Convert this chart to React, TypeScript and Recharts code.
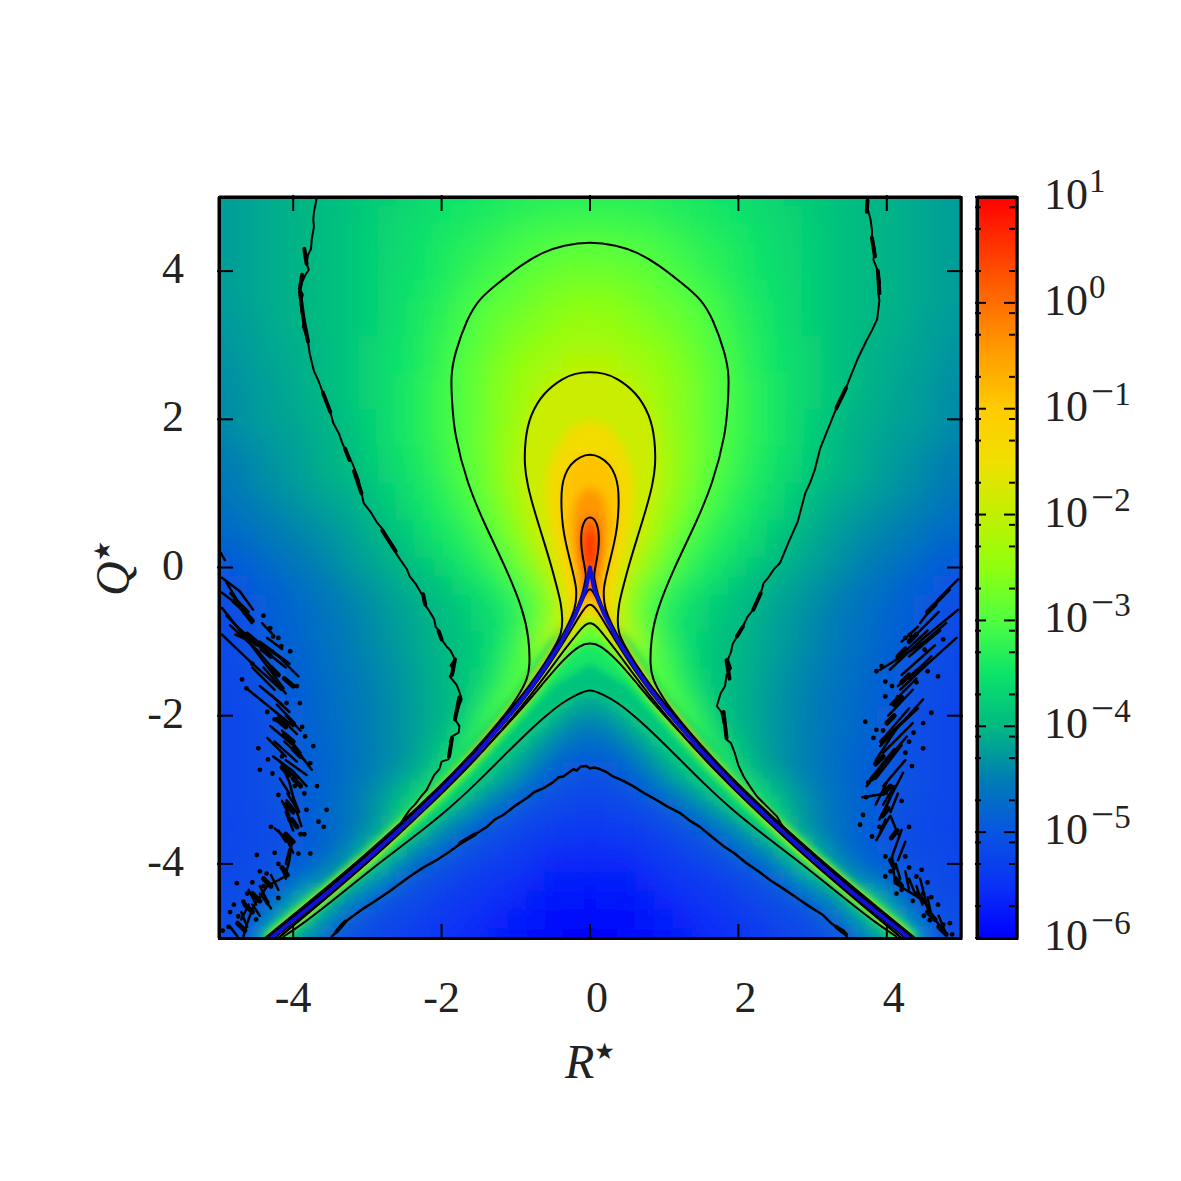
import { ComposedChart, Scatter, XAxis, YAxis } from 'recharts';

type Pt = [number, number];

// log10 of the density. One row per Q, one column per R >= 0 (map is mirrored)
const heatQ = [5, 4.75, 4.5, 4.25, 4, 3.75, 3.5, 3.25, 3, 2.75, 2.5, 2.25, 2, 1.75, 1.5, 1.25, 1, 0.75, 0.5, 0.25, 0, -0.25, -0.5, -0.75, -1, -1.25, -1.5, -1.75, -2, -2.25, -2.5, -2.75, -3, -3.25, -3.5, -3.75, -4, -4.25, -4.5, -4.75, -5];
const heatR = [0, 0.25, 0.5, 0.75, 1, 1.25, 1.5, 1.75, 2, 2.25, 2.5, 2.75, 3, 3.25, 3.5, 3.75, 4, 4.25, 4.5, 4.75, 5];
const heatLog = [
  [-3.3, -3.3, -3.3, -3.3, -3.35, -3.4, -3.45, -3.5, -3.55, -3.6, -3.7, -3.75, -3.8, -3.9, -3.95, -4, -4.05, -4.1, -4.15, -4.2, -4.25],
  [-3.2, -3.2, -3.2, -3.25, -3.3, -3.35, -3.4, -3.45, -3.5, -3.6, -3.65, -3.7, -3.8, -3.85, -3.95, -4, -4.05, -4.1, -4.15, -4.2, -4.25],
  [-3.05, -3.05, -3.1, -3.1, -3.15, -3.25, -3.3, -3.4, -3.45, -3.55, -3.6, -3.7, -3.75, -3.85, -3.95, -4, -4.05, -4.1, -4.15, -4.2, -4.25],
  [-2.9, -2.9, -2.95, -3, -3.1, -3.15, -3.25, -3.3, -3.4, -3.5, -3.6, -3.7, -3.75, -3.85, -3.95, -4, -4.05, -4.1, -4.15, -4.2, -4.25],
  [-2.8, -2.8, -2.85, -2.9, -3, -3.1, -3.2, -3.3, -3.4, -3.5, -3.6, -3.65, -3.75, -3.85, -3.95, -4, -4.05, -4.1, -4.15, -4.2, -4.25],
  [-2.65, -2.65, -2.7, -2.8, -2.9, -3, -3.1, -3.2, -3.35, -3.45, -3.55, -3.65, -3.75, -3.85, -3.95, -4, -4.05, -4.1, -4.15, -4.2, -4.25],
  [-2.5, -2.55, -2.6, -2.7, -2.8, -2.9, -3, -3.15, -3.3, -3.4, -3.55, -3.65, -3.75, -3.85, -3.95, -4, -4.05, -4.1, -4.15, -4.2, -4.25],
  [-2.4, -2.4, -2.5, -2.6, -2.7, -2.8, -2.95, -3.1, -3.25, -3.4, -3.5, -3.65, -3.75, -3.85, -3.95, -4, -4.05, -4.1, -4.2, -4.25, -4.3],
  [-2.3, -2.3, -2.4, -2.5, -2.6, -2.75, -2.9, -3.05, -3.2, -3.35, -3.5, -3.6, -3.7, -3.85, -3.95, -4.05, -4.1, -4.15, -4.2, -4.25, -4.3],
  [-2.1, -2.15, -2.25, -2.35, -2.5, -2.65, -2.85, -3, -3.2, -3.35, -3.5, -3.6, -3.7, -3.85, -3.95, -4.05, -4.1, -4.15, -4.2, -4.3, -4.35],
  [-1.95, -2, -2.1, -2.25, -2.45, -2.6, -2.8, -3, -3.15, -3.3, -3.45, -3.6, -3.7, -3.85, -3.95, -4.05, -4.1, -4.2, -4.25, -4.3, -4.35],
  [-1.8, -1.85, -2, -2.2, -2.4, -2.6, -2.8, -3, -3.15, -3.3, -3.45, -3.6, -3.7, -3.85, -3.95, -4.05, -4.15, -4.2, -4.25, -4.35, -4.4],
  [-1.6, -1.7, -1.9, -2.1, -2.35, -2.6, -2.8, -3, -3.15, -3.3, -3.45, -3.6, -3.75, -3.9, -4.05, -4.1, -4.15, -4.2, -4.25, -4.3, -4.4],
  [-1.35, -1.45, -1.7, -2, -2.3, -2.55, -2.8, -3, -3.15, -3.3, -3.45, -3.6, -3.75, -3.95, -4.05, -4.1, -4.2, -4.25, -4.3, -4.4, -4.45],
  [-1, -1.2, -1.55, -1.9, -2.25, -2.55, -2.8, -3, -3.2, -3.35, -3.5, -3.65, -3.8, -3.95, -4.05, -4.15, -4.2, -4.3, -4.35, -4.45, -4.5],
  [-0.7, -0.95, -1.45, -1.85, -2.25, -2.55, -2.85, -3.05, -3.2, -3.4, -3.55, -3.7, -3.85, -4, -4.05, -4.15, -4.25, -4.3, -4.4, -4.5, -4.55],
  [-0.45, -0.75, -1.35, -1.85, -2.3, -2.6, -2.9, -3.1, -3.3, -3.45, -3.6, -3.75, -3.95, -4.08, -4.15, -4.2, -4.3, -4.35, -4.45, -4.5, -4.6],
  [-0.2, -0.7, -1.4, -1.95, -2.4, -2.7, -3, -3.2, -3.35, -3.5, -3.7, -3.85, -4.03, -4.12, -4.2, -4.3, -4.35, -4.45, -4.5, -4.6, -4.7],
  [0, -0.65, -1.55, -2.05, -2.5, -2.85, -3.1, -3.3, -3.45, -3.6, -3.8, -3.95, -4.1, -4.2, -4.3, -4.35, -4.45, -4.5, -4.6, -4.7, -4.75],
  [0.2, -0.8, -1.75, -2.25, -2.7, -3, -3.25, -3.4, -3.55, -3.7, -3.9, -4.05, -4.15, -4.25, -4.35, -4.45, -4.5, -4.6, -4.7, -4.8, -4.85],
  [0.3, -1, -2, -2.45, -2.85, -3.15, -3.35, -3.5, -3.7, -3.85, -4, -4.1, -4.2, -4.3, -4.4, -4.5, -4.6, -4.7, -4.8, -4.9, -5],
  [0, -1.2, -2.3, -2.75, -3.1, -3.35, -3.5, -3.65, -3.85, -4, -4.1, -4.2, -4.3, -4.4, -4.5, -4.6, -4.7, -4.8, -4.9, -5, -5.05],
  [-1, -1.5, -2.5, -2.95, -3.25, -3.5, -3.65, -3.8, -3.95, -4.05, -4.15, -4.25, -4.35, -4.45, -4.55, -4.65, -4.75, -4.85, -4.95, -5.05, -5.1],
  [-2.1, -1.6, -2.4, -2.95, -3.35, -3.55, -3.7, -3.85, -3.98, -4.1, -4.2, -4.3, -4.4, -4.5, -4.6, -4.7, -4.8, -4.85, -5, -5.1, -5.15],
  [-2.9, -2.6, -1.9, -2.7, -3.2, -3.5, -3.75, -3.9, -4, -4.1, -4.2, -4.3, -4.4, -4.5, -4.6, -4.7, -4.8, -4.9, -5, -5.1, -5.2],
  [-3.4, -3.3, -3, -2.8, -3.1, -3.45, -3.75, -3.92, -4.02, -4.12, -4.25, -4.35, -4.45, -4.55, -4.65, -4.75, -4.85, -4.95, -5.02, -5.12, -5.2],
  [-3.75, -3.6, -3.2, -2.9, -3, -3.4, -3.7, -3.92, -4.02, -4.15, -4.27, -4.37, -4.47, -4.57, -4.67, -4.77, -4.87, -4.97, -5.05, -5.15, -5.22],
  [-4.1, -4, -3.6, -3.2, -2.9, -3.2, -3.6, -3.9, -4.05, -4.15, -4.3, -4.4, -4.5, -4.6, -4.7, -4.8, -4.9, -5, -5.07, -5.17, -5.23],
  [-4.4, -4.3, -4, -3.6, -3.2, -3, -3.4, -3.85, -4.05, -4.15, -4.3, -4.4, -4.5, -4.6, -4.7, -4.8, -4.92, -5.02, -5.1, -5.2, -5.25],
  [-4.65, -4.55, -4.35, -4, -3.65, -3.3, -3.2, -3.7, -4, -4.15, -4.3, -4.42, -4.5, -4.62, -4.72, -4.82, -4.93, -5.03, -5.1, -5.2, -5.25],
  [-4.85, -4.8, -4.6, -4.35, -4, -3.7, -3.3, -3.4, -3.9, -4.1, -4.28, -4.42, -4.52, -4.65, -4.75, -4.85, -4.95, -5.03, -5.1, -5.2, -5.25],
  [-5.02, -5, -4.85, -4.6, -4.25, -3.95, -3.6, -3.2, -3.7, -4.05, -4.25, -4.4, -4.55, -4.65, -4.8, -4.87, -4.97, -5.05, -5.1, -5.2, -5.25],
  [-5.15, -5.1, -5.05, -4.9, -4.65, -4.35, -4.05, -3.7, -3.2, -3.7, -4, -4.25, -4.45, -4.6, -4.75, -4.85, -4.97, -5.05, -5.1, -5.2, -5.25],
  [-5.3, -5.25, -5.2, -5.1, -5, -4.75, -4.5, -4.15, -3.85, -3.3, -3.8, -4.15, -4.4, -4.6, -4.75, -4.87, -4.97, -5.05, -5.15, -5.2, -5.25],
  [-5.4, -5.35, -5.35, -5.25, -5.15, -5.05, -4.9, -4.65, -4.35, -3.95, -3.3, -4.2, -4.4, -4.6, -4.75, -4.9, -5, -5.1, -5.15, -5.22, -5.27],
  [-5.55, -5.5, -5.45, -5.4, -5.3, -5.2, -5.1, -4.95, -4.7, -4.45, -4.15, -3.4, -4.2, -4.55, -4.75, -4.9, -5, -5.1, -5.15, -5.2, -5.25],
  [-5.65, -5.6, -5.6, -5.5, -5.4, -5.35, -5.25, -5.15, -5.05, -4.85, -4.55, -4.15, -3.4, -4.3, -4.6, -4.8, -4.9, -5, -5.1, -5.15, -5.2],
  [-5.75, -5.7, -5.7, -5.6, -5.5, -5.45, -5.4, -5.3, -5.2, -5.1, -5, -4.7, -4.3, -3.8, -4.2, -4.6, -4.85, -4.97, -5.07, -5.15, -5.2],
  [-5.85, -5.8, -5.8, -5.7, -5.6, -5.55, -5.45, -5.4, -5.3, -5.2, -5.1, -5.05, -4.9, -4.45, -4.05, -3.4, -4.4, -4.85, -5, -5.1, -5.15],
  [-5.9, -5.9, -5.85, -5.8, -5.7, -5.65, -5.55, -5.5, -5.4, -5.3, -5.25, -5.15, -5.05, -4.95, -4.55, -4.05, -3.4, -4.5, -4.9, -5.05, -5.15],
  [-5.95, -5.95, -5.9, -5.85, -5.8, -5.7, -5.6, -5.55, -5.5, -5.4, -5.3, -5.25, -5.15, -5.05, -5, -4.6, -4.2, -3.4, -4.8, -5.05, -5.15],
];

// colour map, level -> colour
const cmapLevels = [-6, -5.5, -5, -4.5, -4, -3.5, -3, -2.5, -2, -1.5, -1, -0.5, 0, 0.5, 1];
const cmapColors = ['#0000ff', '#0a32f5', '#0855e1', '#007db4', '#00b982', '#0ce469', '#50ff40', '#90ff10', '#c0f000', '#f0e000', '#ffcb00', '#ffa000', '#ff6e00', '#ff3800', '#ff0000'];

// contours (R >= 0 half, apex first); top* runs over the bell, low* under the cusp
const blueLine: Pt[] = [[0, 0], [0.05, -0.26], [0.1, -0.41], [0.2, -0.65], [0.4, -1.03], [0.6, -1.34], [0.8, -1.63], [1, -1.89], [1.5, -2.48], [2, -3], [2.5, -3.48], [3, -3.93], [3.5, -4.36], [4, -4.76], [4.3, -5]];

const top0: Pt[] = [[0, 0.68], [0.05, 0.66], [0.09, 0.6], [0.115, 0.5], [0.12, 0.38], [0.115, 0.25], [0.09, 0.1], [0.07, 0], [0.05, -0.12], [0.07, -0.2], [0.1, -0.36], [0.2, -0.62], [0.4, -1], [0.8, -1.6], [1.2, -2.1], [1.6, -2.55]];
const low0: Pt[] = [[0, -0.27], [0.05, -0.34], [0.1, -0.44], [0.2, -0.66], [0.4, -1.04], [0.8, -1.64], [1.2, -2.14], [1.6, -2.59]];
const top1: Pt[] = [[0, 1.53], [0.13, 1.5], [0.27, 1.39], [0.34, 1.25], [0.38, 1.1], [0.39, 0.87], [0.37, 0.55], [0.32, 0.3], [0.27, 0.1], [0.21, -0.15], [0.18, -0.3], [0.19, -0.48], [0.22, -0.62], [0.4, -0.98], [0.6, -1.3], [0.8, -1.59], [1, -1.85], [1.5, -2.44], [2, -2.97], [3, -3.9], [4.32, -5]];
const low1: Pt[] = [[0, -0.48], [0.08, -0.55], [0.2, -0.75], [0.4, -1.08], [0.6, -1.39], [0.8, -1.66], [1, -1.92], [1.5, -2.5], [2, -3.02], [3, -3.96], [4.25, -5]];
const top2: Pt[] = [[0, 2.64], [0.2, 2.62], [0.36, 2.56], [0.63, 2.36], [0.81, 2.05], [0.876, 1.73], [0.885, 1.37], [0.84, 1.1], [0.76, 0.8], [0.63, 0.38], [0.52, 0.02], [0.45, -0.25], [0.39, -0.48], [0.37, -0.7], [0.38, -0.88], [0.47, -1.06], [0.6, -1.28], [0.8, -1.57], [1, -1.83], [1.5, -2.43], [2, -2.96], [3, -3.88], [4.35, -5]];
const low2: Pt[] = [[0, -0.73], [0.1, -0.8], [0.2, -0.93], [0.4, -1.18], [0.6, -1.46], [0.8, -1.72], [1, -1.97], [1.5, -2.55], [2, -3.06], [3, -4], [4.2, -5]];
const top3: Pt[] = [[0, 4.4], [0.36, 4.35], [0.63, 4.26], [0.92, 4.09], [1.26, 3.82], [1.5, 3.62], [1.66, 3.35], [1.82, 2.9], [1.88, 2.59], [1.855, 2.18], [1.83, 1.82], [1.66, 1.14], [1.41, 0.56], [1.145, 0.02], [0.9, -0.57], [0.82, -0.97], [0.81, -1.33], [0.84, -1.5], [0.97, -1.74], [1.1, -1.93], [1.5, -2.41], [2, -2.94], [3, -3.87], [4.38, -5]];
const low3: Pt[] = [[0, -1.02], [0.13, -1.04], [0.36, -1.24], [0.63, -1.56], [0.85, -1.83], [1.3, -2.32], [1.75, -2.8], [2.2, -3.23], [2.7, -3.72], [3.19, -4.14], [3.64, -4.52], [4.2, -5]];
const low4: Pt[] = [[0, -1.63], [0.18, -1.72], [0.36, -1.81], [0.63, -2.03], [0.9, -2.28], [1.21, -2.59], [1.53, -2.91], [1.89, -3.25], [2.43, -3.68], [2.96, -4.08], [3.46, -4.49], [3.86, -4.8], [4.13, -4.98]];

const top4Left: Pt[] = [[-3.68, 5], [-3.7, 4.9], [-3.72, 4.8], [-3.73, 4.7], [-3.72, 4.6], [-3.75, 4.43], [-3.76, 4.3], [-3.8, 4.22], [-3.82, 4.1], [-3.79, 4.02], [-3.84, 3.94], [-3.88, 3.85], [-3.91, 3.76], [-3.87, 3.68], [-3.9, 3.58], [-3.89, 3.44], [-3.85, 3.35], [-3.87, 3.25], [-3.84, 3.17], [-3.8, 3.05], [-3.78, 2.9], [-3.75, 2.77], [-3.72, 2.65], [-3.66, 2.52], [-3.6, 2.36], [-3.56, 2.25], [-3.5, 2.1], [-3.46, 1.95], [-3.38, 1.8], [-3.34, 1.68], [-3.28, 1.55], [-3.2, 1.4], [-3.12, 1.19], [-3.09, 1.05], [-3.05, 0.87], [-2.95, 0.74], [-2.88, 0.62], [-2.79, 0.51], [-2.7, 0.33], [-2.62, 0.2], [-2.56, 0.11], [-2.47, -0.02], [-2.43, -0.12], [-2.35, -0.22], [-2.29, -0.32], [-2.25, -0.39], [-2.24, -0.48], [-2.17, -0.58], [-2.1, -0.7], [-2.08, -0.8], [-2.03, -0.86], [-2, -0.97], [-1.93, -1.07], [-1.88, -1.12], [-1.82, -1.24], [-1.88, -1.32], [-1.83, -1.38], [-1.89, -1.47], [-1.8, -1.58], [-1.76, -1.68], [-1.73, -1.78], [-1.76, -1.86], [-1.82, -2.05], [-1.76, -2.14], [-1.77, -2.23], [-1.86, -2.28], [-1.89, -2.35], [-1.87, -2.46], [-1.91, -2.59], [-2, -2.62], [-2.03, -2.72], [-2.1, -2.8], [-2.2, -3], [-2.27, -3.08], [-2.36, -3.2], [-2.43, -3.27], [-2.52, -3.4], [-2.6, -3.54], [-2.78, -3.7], [-3, -3.86], [-3.5, -4.31], [-4, -4.72], [-4.32, -4.98]];
const top4Right: Pt[] = [[3.75, 5], [3.74, 4.85], [3.78, 4.7], [3.8, 4.55], [3.8, 4.43], [3.84, 4.3], [3.82, 4.15], [3.88, 4], [3.91, 3.85], [3.88, 3.76], [3.9, 3.6], [3.87, 3.35], [3.8, 3.2], [3.72, 3.05], [3.6, 2.8], [3.52, 2.6], [3.4, 2.3], [3.3, 2.1], [3.2, 1.85], [3.1, 1.6], [3.03, 1.32], [2.97, 1.15], [2.9, 1], [2.8, 0.62], [2.68, 0.35], [2.56, 0.06], [2.48, -0.02], [2.4, -0.14], [2.34, -0.21], [2.3, -0.35], [2.2, -0.57], [2.12, -0.67], [2.06, -0.8], [1.98, -0.93], [1.92, -1.04], [1.9, -1.14], [1.86, -1.24], [1.9, -1.36], [1.84, -1.45], [1.82, -1.6], [1.76, -1.7], [1.71, -1.87], [1.77, -1.95], [1.8, -2.1], [1.83, -2.2], [1.84, -2.32], [1.9, -2.37], [1.95, -2.5], [2, -2.67], [2.07, -2.82], [2.16, -2.96], [2.25, -3.09], [2.38, -3.22], [2.52, -3.36], [2.6, -3.5], [2.7, -3.59], [2.92, -3.8], [3.2, -4.05], [3.7, -4.48], [4.32, -4.98]];
const low5Left: Pt[] = [[0, -2.71], [-0.05, -2.68], [-0.13, -2.69], [-0.18, -2.74], [-0.22, -2.72], [-0.36, -2.82], [-0.42, -2.83], [-0.5, -2.9], [-0.63, -2.98], [-0.75, -3.03], [-0.85, -3.11], [-1, -3.21], [-1.17, -3.34], [-1.28, -3.4], [-1.39, -3.5], [-1.55, -3.6], [-1.71, -3.7], [-1.9, -3.84], [-2.07, -3.95], [-2.25, -4.05], [-2.43, -4.17], [-2.66, -4.34], [-2.88, -4.49], [-3.05, -4.6], [-3.23, -4.73], [-3.35, -4.82], [-3.42, -4.92], [-3.48, -4.98]];
const low5Right: Pt[] = [[0, -2.71], [0.06, -2.7], [0.13, -2.72], [0.22, -2.76], [0.31, -2.82], [0.45, -2.88], [0.58, -2.95], [0.74, -3.05], [0.9, -3.14], [1.05, -3.23], [1.21, -3.31], [1.35, -3.42], [1.48, -3.5], [1.65, -3.64], [1.8, -3.76], [1.95, -3.86], [2.11, -3.99], [2.27, -4.1], [2.43, -4.22], [2.6, -4.33], [2.79, -4.46], [2.95, -4.57], [3.14, -4.69], [3.25, -4.8], [3.32, -4.85], [3.42, -4.9], [3.46, -4.98]];

// estimated half-decade loops, only needed to shade the inner bell
const bellM15: Pt[] = [[0, 2], [0.25, 1.9], [0.45, 1.65], [0.58, 1.3], [0.6, 0.95], [0.55, 0.55], [0.45, 0.1], [0.35, -0.3], [0.3, -0.6], [0.32, -0.78], [0, -0.6]];
const bellM05: Pt[] = [[0, 1.08], [0.12, 1.02], [0.2, 0.85], [0.24, 0.6], [0.22, 0.3], [0.17, 0], [0.13, -0.2], [0.1, -0.32], [0, -0.38]];
const bellP04: Pt[] = [[0, 0.5], [0.05, 0.45], [0.07, 0.3], [0.06, 0.1], [0.03, -0.05], [0, -0.1]];

// filled ridge along the tail, lower side from the contours, upper side tight to the blue line
const ridgeM3: Pt[] = [...low3, [4.38, -5], [3, -3.87], [2, -2.94], [1.5, -2.41], [0.97, -1.74], [0.6, -1.18], [0.3, -0.75], [0, -0.5]];
const ridgeM35: Pt[] = [[0, -1.3], [0.5, -1.6], [1, -2.15], [1.5, -2.7], [2, -3.2], [3, -4.04], [4, -4.85], [4.18, -5], [4.4, -5], [3, -3.86], [2, -2.92], [1.5, -2.38], [1, -1.78], [0.5, -1.03], [0, -0.55]];
const ridgeM4: Pt[] = [...low4, [4.42, -5], [3.5, -4.3], [2.6, -3.48], [2, -2.86], [1.5, -2.3], [1, -1.72], [0.5, -1], [0, -0.6]];

// the broken-up 1e-5 and 1e-4 contour, short pieces
const streaksLeft: Pt[][] = [
  [[-4.96, -0.14], [-4.72, -0.32], [-4.54, -0.57]], [[-4.96, -0.34], [-4.75, -0.5], [-4.56, -0.75]], [[-4.96, -0.545], [-4.6, -1], [-4.13, -1.63]], [[-4.96, -0.905], [-4.6, -1.25], [-4.16, -1.65]],
  [[-4.78, -0.905], [-4.27, -1.13]], [[-4.53, -0.97], [-4.2, -1.2], [-3.93, -1.47]], [[-4.63, -1.63], [-4.3, -1.9], [-4, -2.14]], [[-4.31, -2.14], [-4, -2.4], [-3.75, -2.73]], [[-4.27, -2.55], [-4, -2.75], [-3.82, -2.95]],
  [[-4.15, -2.68], [-4.05, -2.9], [-3.99, -3.14]], [[-4.09, -3.14], [-3.95, -3.3], [-3.89, -3.49]], [[-4.25, -3.52], [-4.02, -3.72]], [[-4.02, -3.72], [-4.05, -3.95], [-4.11, -4.17]], [[-4.11, -4.17], [-4.35, -4.3], [-4.54, -4.58]], [[-4.54, -4.58], [-4.62, -4.8], [-4.67, -4.98]],
  [[-4.9, -0.2], [-4.75, -0.45]], [[-4.5, -1.1], [-4.2, -1.45]], [[-4.4, -1.35], [-4.1, -1.7]], [[-4.35, -2.3], [-4.1, -2.55]], [[-4.15, -2.2], [-3.9, -2.5]], [[-4.1, -3.3], [-4, -3.55]], [[-4.45, -4.4], [-4.3, -4.6]], [[-4.7, -4.75], [-4.6, -4.55]], [[-4.98, 0.2], [-4.92, 0.1]],
  [[-4.85, -0.35], [-4.6, -0.6]], [[-4.8, -0.45], [-4.55, -0.72]], [[-4.9, -0.65], [-4.5, -1.05]], [[-4.85, -0.78], [-4.45, -1.15]], [[-4.7, -0.85], [-4.3, -1.2]], [[-4.6, -0.95], [-4.1, -1.35]], [[-4.45, -1], [-4.05, -1.3]], [[-4.35, -0.95], [-4.15, -1.1]], [[-4.42, -0.75], [-4.28, -0.9]],
  [[-4.55, -1.35], [-4.25, -1.65]], [[-4.45, -1.6], [-4.15, -1.85]], [[-4.3, -1.72], [-4.05, -1.95]], [[-4.22, -1.85], [-3.98, -2.1]], [[-4.2, -2], [-3.95, -2.25]], [[-4.1, -2], [-3.9, -2.2]], [[-4.25, -2.35], [-3.95, -2.62]], [[-4.12, -2.35], [-3.85, -2.6]], [[-4.2, -2.6], [-3.95, -2.85]], [[-4.1, -2.6], [-3.82, -2.8]], [[-4.18, -2.85], [-4.05, -3.05]],
  [[-4.08, -3.05], [-3.95, -3.25]], [[-4.15, -3.15], [-4.05, -3.35]], [[-4, -3.1], [-3.92, -3.3]], [[-4.2, -3.55], [-4.1, -3.7]], [[-4.12, -3.6], [-4, -3.85]], [[-4.05, -3.8], [-4.1, -4]], [[-4.15, -4.05], [-4.1, -4.2]], [[-4.3, -4.15], [-4.2, -4.35]], [[-4.45, -4.3], [-4.35, -4.5]], [[-4.6, -4.35], [-4.5, -4.55]], [[-4.55, -4.55], [-4.45, -4.7]], [[-4.7, -4.65], [-4.62, -4.85]], [[-4.85, -4.85], [-4.75, -4.98]],
];
const streaksRight: Pt[][] = [
  [[4.96, -0.16], [4.7, -0.42], [4.45, -0.75]], [[4.96, -0.57], [4.5, -0.95], [4.04, -1.38]], [[4.94, -0.95], [4.55, -1.3], [4.18, -1.65]], [[4.49, -1.02], [3.91, -1.38]], [[4.49, -1.78], [4.2, -2.1], [3.91, -2.41]],
  [[4.27, -2.28], [4, -2.6], [3.73, -2.95]], [[4.22, -2.77], [4.1, -3], [3.95, -3.31]], [[4, -3.05], [3.67, -3.1]], [[4.04, -3.36], [3.86, -3.68]], [[4.2, -3.54], [4.07, -3.9]], [[4.07, -3.9], [4.11, -4.26]], [[4.11, -4.26], [4.49, -4.49]], [[4.49, -4.49], [4.65, -4.75], [4.81, -4.96]],
  [[4.7, -0.6], [4.35, -0.95]], [[4.6, -1.2], [4.3, -1.5]], [[4.3, -1.9], [4, -2.25]], [[4.15, -2.15], [3.85, -2.6]], [[4, -2.9], [3.85, -3.2]], [[4.15, -3.6], [4.05, -3.35]], [[4.25, -4.1], [4.3, -4.35]], [[4.45, -4.2], [4.55, -4.6]],
  [[4.85, -0.3], [4.6, -0.55]], [[4.8, -0.75], [4.45, -1.05]], [[4.72, -0.85], [4.3, -1.2]], [[4.55, -0.85], [4.12, -1.25]], [[4.42, -0.8], [4.2, -1]], [[4.65, -1.05], [4.2, -1.45]], [[4.5, -1.3], [4.15, -1.6]], [[4.4, -1.5], [4.05, -1.85]], [[4.35, -1.65], [4.02, -2]], [[4.42, -1.9], [4.1, -2.2]], [[4.35, -2.1], [3.95, -2.5]], [[4.25, -2.05], [3.92, -2.35]], [[4.2, -2.4], [3.85, -2.85]], [[4.1, -2.45], [3.78, -2.85]], [[4.25, -2.6], [3.95, -2.95]],
  [[4.1, -2.95], [3.95, -3.2]], [[4.05, -3.1], [3.9, -3.4]], [[4.15, -3.05], [4.05, -3.3]], [[3.98, -3.4], [3.9, -3.6]], [[4.25, -3.7], [4.15, -3.95]], [[4.12, -4], [4.18, -4.2]], [[4.3, -4.2], [4.38, -4.4]], [[4.4, -4.3], [4.48, -4.55]], [[4.55, -4.45], [4.6, -4.7]], [[4.7, -4.7], [4.78, -4.9]],
];
// thick places where the noisy contour doubles back on itself
const clumps: Pt[][] = [
  [[-3.85, 4.3], [-3.82, 4.1]], [[-3.88, 3.95], [-3.91, 3.76]], [[-3.91, 3.72], [-3.86, 3.35], [-3.8, 3.05]], [[-3.6, 2.36], [-3.5, 2.1]], [[-3.3, 1.6], [-3.24, 1.45]], [[-3.18, 1.3], [-3.08, 1]], [[-2.8, 0.5], [-2.62, 0.22]], [[-2.25, -0.36], [-2.22, -0.5]],
  [[-2.04, -0.86], [-2, -0.97]], [[-1.82, -1.24], [-1.86, -1.45]], [[-1.76, -1.75], [-1.82, -2.05]], [[-1.86, -2.3], [-1.9, -2.55]], [[-1.75, -3.72], [-1.55, -3.6]], [[-3.42, -4.92], [-3.3, -4.78]],
  [[3.74, 4.95], [3.73, 4.8]], [[3.8, 4.45], [3.84, 4.2]], [[3.88, 4], [3.9, 3.7]], [[3.45, 2.42], [3.32, 2.15]], [[1.8, -1.95], [1.84, -2.3]], [[1.98, -0.93], [2.06, -0.8]], [[2.2, -0.57], [2.3, -0.35]], [[1.84, -1.25], [1.88, -1.5]], [[3.32, -4.85], [3.45, -4.95]],
];
const blobs: Pt[][] = [
  [[-4.8, -0.45], [-4.68, -0.56]], [[-4.66, -0.6], [-4.55, -0.72]], [[-4.62, -0.9], [-4.5, -1]], [[-4.42, -1.1], [-4.3, -1.2]], [[-4.3, -1.35], [-4.2, -1.45]], [[-4.12, -1.5], [-4, -1.6]], [[-4.22, -2.05], [-4.1, -2.15]], [[-4.12, -2.25], [-4, -2.35]], [[-4, -2.45], [-3.9, -2.55]], [[-4.15, -2.7], [-4.05, -2.8]], [[-4, -2.85], [-3.9, -2.95]], [[-4.1, -3.2], [-4, -3.3]], [[-4.02, -3.4], [-3.95, -3.5]], [[-4.1, -3.6], [-4, -3.7]], [[-4.15, -4.05], [-4.08, -4.15]], [[-4.4, -4.2], [-4.3, -4.3]], [[-4.55, -4.4], [-4.45, -4.5]], [[-4.65, -4.55], [-4.55, -4.65]], [[-4.75, -4.8], [-4.65, -4.9]],
  [[4.65, -0.5], [4.55, -0.6]], [[4.4, -0.9], [4.3, -1]], [[4.25, -1.1], [4.15, -1.2]], [[4.3, -1.45], [4.2, -1.55]], [[4.2, -1.75], [4.1, -1.85]], [[4.1, -2], [4, -2.1]], [[4.03, -2.25], [3.93, -2.35]], [[3.95, -2.55], [3.85, -2.65]], [[3.9, -2.75], [3.8, -2.85]], [[4.05, -2.95], [3.95, -3.05]], [[4.02, -3.25], [3.94, -3.35]], [[4.14, -3.55], [4.06, -3.65]], [[4.05, -3.95], [4.1, -4.05]], [[4.12, -4.2], [4.2, -4.3]], [[4.4, -4.4], [4.5, -4.5]], [[4.55, -4.65], [4.65, -4.75]], [[4.7, -4.85], [4.8, -4.95]],
];
const specks: Pt[] = [
  [-4.31, -0.82], [-4.27, -0.93], [-4.16, -1.06], [-4.04, -1.13], [-3.95, -1.6], [-3.91, -1.83], [-4.09, -1.83], [-3.84, -2.28], [-3.73, -2.41], [-4.47, -2.44], [-4.34, -2.59], [-4.45, -2.73], [-3.77, -2.64], [-3.68, -2.95], [-4.2, -3.07], [-3.82, -3.27], [-3.55, -3.27], [-3.66, -3.43], [-3.59, -3.5], [-3.93, -3.86], [-3.77, -3.86], [-4.49, -3.88], [-4.36, -4.13], [-4.76, -4.26], [-4.2, -4.46], [-4.67, -4.51], [-4.87, -4.85], [-4.74, -4.71], [-4.69, -1.51], [-4.63, -1.63],
  [-4.4, -0.65], [-4.2, -0.95], [-4.55, -1.3], [-4.25, -2.05], [-4.35, -1.95], [-4.05, -2.1], [-3.88, -2.15], [-3.98, -2.95], [-4.28, -2.78], [-4.15, -2.55], [-3.85, -3.05], [-3.9, -3.6], [-4.3, -3.5], [-4.25, -3.85], [-4.2, -4], [-4.45, -4.1], [-4.55, -4.25], [-4.62, -4.4], [-4.35, -4.52], [-4.5, -4.75], [-4.8, -4.55], [-4.95, -4.9], [-4.85, -4.65], [-4.4, -4.3], [-3.85, -3.6], [-4.05, -3.4],
  [4.31, -0.91], [4.25, -0.95], [4.51, -1.11], [4.76, -0.97], [4.69, -1.47], [3.93, -1.33], [3.86, -1.4], [3.98, -1.54], [4.07, -1.6], [3.98, -1.74], [4.11, -1.83], [3.71, -2.08], [4.49, -2.1], [4.6, -1.96], [3.86, -2.19], [3.82, -2.3], [4.36, -2.23], [4.49, -2.44], [4.34, -2.68], [3.68, -3.34], [3.64, -3.47], [3.8, -3.63], [3.98, -3.9], [3.98, -4.17], [4.47, -4.08], [4.4, -4.17], [4.49, -4.4], [4.13, -4.4], [4.69, -4.55], [4.76, -4.82], [4.58, -4.76],
  [4.15, -1.75], [3.95, -2.2], [4.4, -1.55], [4.55, -1.4], [4.25, -2.5], [4.3, -2.35], [4.2, -3.15], [3.9, -3.5], [4.3, -3.5], [4.25, -3.9], [4.3, -4.05], [4.05, -4.1], [4.2, -4.35], [4.35, -4.5], [4.55, -4.25], [4.6, -4.45], [4.5, -4.7], [4.85, -4.8], [4.88, -4.95], [3.75, -2.9], [3.72, -3.1],
];

const axisTicks = [-4, -2, 0, 2, 4];
const cbarDecades = [-6, -5, -4, -3, -2, -1, 0, 1];
const cbarMinorLogs = [0.301, 0.699, 0.903];
const cbarCorners: Pt[] = [[0, -6], [1, -6], [1, 1], [0, 1]];

const INK = '#222222';
const SERIF = '"Liberation Serif", serif';
const TICK_LEN = 16;

function hexToRgb(hex: string) {
  return [1, 3, 5].map((i) => parseInt(hex.slice(i, i + 2), 16));
}

function levelColor(level: number) {
  const v = Math.min(1, Math.max(-6, level));
  let i = 0;
  while (i < cmapLevels.length - 2 && v > cmapLevels[i + 1]) i++;
  const t = (v - cmapLevels[i]) / (cmapLevels[i + 1] - cmapLevels[i]);
  const a = hexToRgb(cmapColors[i]);
  const b = hexToRgb(cmapColors[i + 1]);
  const c = a.map((n, k) => Math.round(n + (b[k] - n) * t));
  return `rgb(${c[0]},${c[1]},${c[2]})`;
}

const heatCells = heatQ.flatMap((q, row) =>
  heatR.flatMap((r, col) => {
    const fill = levelColor(heatLog[row][col]);
    const cells = [{ x: r, y: q, fill }];
    if (r > 0) cells.push({ x: -r, y: q, fill });
    return cells;
  }),
);

const rows = (pts: Pt[]) => pts.map(([x, y]) => ({ x, y }));
const both = (half: Pt[]): Pt[] => [
  ...half.slice(1).reverse().map(([r, q]): Pt => [-r, q]),
  ...half,
];
// closed loop: bell first, then back under the cusp
const loop = (top: Pt[], low: Pt[]): Pt[] => [...both(top), ...[...both(low)].reverse()];

const noDot = () => null;

const HeatCell = (props: any) => {
  const { cx, cy, payload } = props;
  // edge cells run on past the frame so the blur has something to pull from
  const left = payload.x === -5 ? 60 : 10;
  const right = payload.x === 5 ? 60 : 10;
  const up = payload.y === 5 ? 60 : 10;
  const down = payload.y === -5 ? 60 : 10;
  return <rect x={cx - left} y={cy - up} width={left + right} height={up + down} fill={payload.fill} />;
};

const Speck = (props: any) => <circle cx={props.cx} cy={props.cy} r={2.4} fill="#000" />;

const BottomTick = (props: any) => {
  const { x, y, payload } = props;
  const v = payload.value;
  return (
    <g>
      <line x1={x} x2={x} y1={y} y2={y - TICK_LEN} stroke="#000" strokeWidth={2} />
      <text x={v >= 0 ? x + 7 : x} y={y + 72} textAnchor="middle" fontFamily={SERIF} fontSize={44} fill={INK}>{v}</text>
    </g>
  );
};
const TopTick = ({ x, y }: any) => <line x1={x} x2={x} y1={y} y2={y + TICK_LEN} stroke="#000" strokeWidth={2} />;
const LeftTick = (props: any) => {
  const { x, y, payload } = props;
  return (
    <g>
      <line x1={x} x2={x + TICK_LEN} y1={y} y2={y} stroke="#000" strokeWidth={2} />
      <text x={x - 33} y={y + 12} textAnchor="end" fontFamily={SERIF} fontSize={44} fill={INK}>{payload.value}</text>
    </g>
  );
};
const RightTick = ({ x, y }: any) => <line x1={x} x2={x - TICK_LEN} y1={y} y2={y} stroke="#000" strokeWidth={2} />;

const CbarTick = (props: any) => {
  const { x, y, payload } = props;
  const v = payload.value;
  const major = cbarDecades.includes(v);
  const len = major ? 11 : 6;
  return (
    <g>
      <line x1={x} x2={x + len} y1={y} y2={y} stroke="#000" strokeWidth={2} />
      <line x1={x + 40} x2={x + 40 - len} y1={y} y2={y} stroke="#000" strokeWidth={2} />
      {major && (
        <text x={x + 69} y={y + 12} fontFamily={SERIF} fontSize={44} fill={INK}>
          10
          {v < 0 && <tspan fontSize={41} dy={-16} dx={3}>{'\u2212'}</tspan>}
          <tspan fontSize={33} dy={v < 0 ? 0 : -17} dx={v < 0 ? 0 : 1}>{Math.abs(v)}</tspan>
        </text>
      )}
    </g>
  );
};

const cbarTicks = cbarDecades.flatMap((d) => (d < 1 ? [d, ...cbarMinorLogs.map((m) => d + m)] : [d]));

function region(key: string, pts: Pt[], level: number) {
  return (
    <Scatter
      key={key}
      data={rows(pts)}
      className="soft"
      shape={noDot}
      line={{ fill: levelColor(level), stroke: 'none' }}
      isAnimationActive={false}
    />
  );
}

function contour(key: string, pts: Pt[], stroke = '#000', strokeWidth = 2, curve: any = 'linear') {
  return (
    <Scatter
      key={key}
      data={rows(pts)}
      shape={noDot}
      lineJointType={curve}
      line={{ stroke, strokeWidth, fill: 'none', strokeLinejoin: 'round', strokeLinecap: 'round' }}
      isAnimationActive={false}
    />
  );
}

const axisLine = { stroke: '#000', strokeWidth: 3 };

export default function App() {
  return (
    <div style={{ position: 'absolute', left: 0, top: 0, width: 1181, height: 1181, background: '#fff' }}>
      <style>{`.heat{filter:url(#heatBlur)} .soft{filter:url(#softBlur)}`}</style>
      <svg width={0} height={0} style={{ position: 'absolute' }}>
        <defs>
          <filter id="heatBlur" filterUnits="userSpaceOnUse" x={0} y={0} width={1181} height={1181}>
            <feGaussianBlur stdDeviation={12} />
          </filter>
          <filter id="softBlur" filterUnits="userSpaceOnUse" x={0} y={0} width={1181} height={1181}>
            <feGaussianBlur stdDeviation={3} />
          </filter>
          <linearGradient id="cbarFill" x1="0" y1="1" x2="0" y2="0">
            {cmapLevels.map((l, i) => (
              <stop key={l} offset={(l + 6) / 7} stopColor={cmapColors[i]} />
            ))}
          </linearGradient>
        </defs>
      </svg>

      <div style={{ position: 'absolute', left: 0, top: 0 }}>
        <ComposedChart width={1181} height={1181} margin={{ left: 218, right: 219, top: 196, bottom: 242 }}>
          <Scatter data={heatCells} className="heat" shape={<HeatCell />} isAnimationActive={false} />

          {region('r4', both(ridgeM4), -3.9)}
          {region('r35', both(ridgeM35), -3.45)}
          {region('r3', both(ridgeM3), -2.85)}
          {region('l2', loop(top2, low2), -1.9)}
          {region('b15', both(bellM15), -1.4)}
          {region('l1', loop(top1, low1), -0.9)}
          {region('b05', both(bellM05), -0.4)}
          {region('l0', loop(top0, low0), 0.15)}
          {region('b04', both(bellP04), 0.6)}

          {[top0, low0, top1, low1, top2, low2, top3, low3, low4].map((c, i) => contour(`c${i}`, both(c), '#000', 2, 'basis'))}
          {contour('t4l', top4Left)}
          {contour('t4r', top4Right)}
          {contour('l5l', low5Left, '#000', 2.5)}
          {contour('l5r', low5Right, '#000', 2.5)}
          {streaksLeft.map((s, i) => contour(`sl${i}`, s, '#000', 2.5))}
          {streaksRight.map((s, i) => contour(`sr${i}`, s, '#000', 2.5))}
          {clumps.map((s, i) => contour(`cl${i}`, s, '#000', 4))}
          {blobs.map((s, i) => contour(`bl${i}`, s, '#000', 5))}
          <Scatter data={rows(specks)} shape={<Speck />} isAnimationActive={false} />

          {contour('blue', both(blueLine), '#1010d8', 4)}

          <XAxis xAxisId={0} type="number" dataKey="x" domain={[-5, 5]} ticks={axisTicks} interval={0} allowDataOverflow height={1} tickSize={0} tickLine={false} axisLine={axisLine} tick={<BottomTick />} />
          <XAxis xAxisId="top" orientation="top" type="number" dataKey="x" domain={[-5, 5]} ticks={axisTicks} interval={0} allowDataOverflow height={1} tickSize={0} tickLine={false} axisLine={axisLine} tick={<TopTick />} />
          <YAxis yAxisId={0} type="number" dataKey="y" domain={[-5, 5]} ticks={axisTicks} interval={0} allowDataOverflow width={1} tickSize={0} tickLine={false} axisLine={axisLine} tick={<LeftTick />} />
          <YAxis yAxisId="right" orientation="right" type="number" dataKey="y" domain={[-5, 5]} ticks={axisTicks} interval={0} allowDataOverflow width={1} tickSize={0} tickLine={false} axisLine={axisLine} tick={<RightTick />} />
        </ComposedChart>
      </div>

      <div style={{ position: 'absolute', left: 0, top: 0 }}>
        <ComposedChart width={1181} height={1181} margin={{ left: 976, right: 163, top: 196, bottom: 242 }}>
          <Scatter data={rows(cbarCorners)} shape={noDot} line={{ fill: 'url(#cbarFill)', stroke: 'none' }} isAnimationActive={false} />
          <XAxis xAxisId={0} type="number" dataKey="x" domain={[0, 1]} ticks={[0, 1]} height={1} tickLine={false} tick={false} axisLine={axisLine} />
          <XAxis xAxisId="top" orientation="top" type="number" dataKey="x" domain={[0, 1]} ticks={[0, 1]} height={1} tickLine={false} tick={false} axisLine={axisLine} />
          <YAxis yAxisId={0} type="number" dataKey="y" domain={[-6, 1]} ticks={cbarTicks} interval={0} width={1} tickSize={0} tickLine={false} axisLine={axisLine} tick={<CbarTick />} />
          <YAxis yAxisId="right" orientation="right" type="number" dataKey="y" domain={[-6, 1]} ticks={[-6, 1]} width={1} tickLine={false} tick={false} axisLine={axisLine} />
        </ComposedChart>
      </div>

      <svg width={1181} height={1181} style={{ position: 'absolute', left: 0, top: 0, pointerEvents: 'none' }}>
        {/* heavy frames, the axis lines come out too thin */}
        <rect x={219.5} y={197.5} width={741.5} height={741} fill="none" stroke="#000" strokeWidth={3} />
        <rect x={977.5} y={197.5} width={39.5} height={741} fill="none" stroke="#000" strokeWidth={3} />
        <text x={565} y={1078} fontFamily={SERIF} fontStyle="italic" fontSize={48} fill={INK}>
          R<tspan fontFamily='"DejaVu Sans"' fontStyle="normal" fontSize={23} dy={-19}>{'\u2605'}</tspan>
        </text>
        <text transform="rotate(-90 129 596)" x={129} y={596} fontFamily={SERIF} fontStyle="italic" fontSize={48} fill={INK}>
          Q<tspan fontFamily='"DejaVu Sans"' fontStyle="normal" fontSize={23} dy={-19}>{'\u2605'}</tspan>
        </text>
      </svg>
    </div>
  );
}
